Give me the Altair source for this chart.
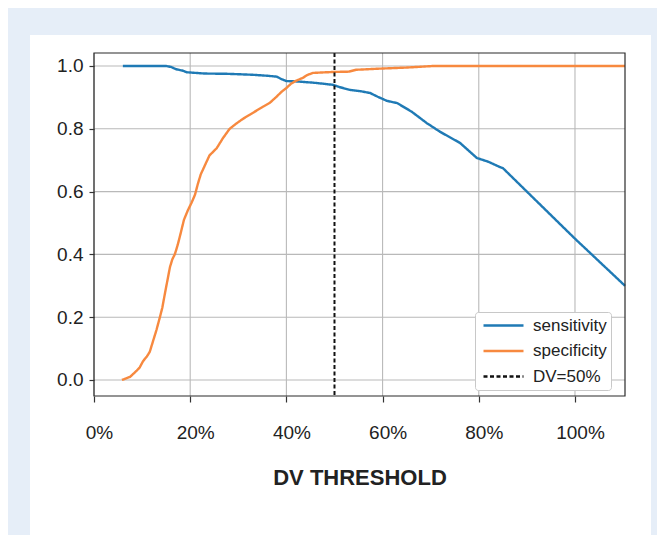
import altair as alt
import pandas as pd

# ---- data ----
spec_thr = [0.058, 0.075, 0.089, 0.095, 0.102, 0.110, 0.116, 0.122, 0.130, 0.137,
            0.142, 0.148, 0.153, 0.158, 0.163, 0.168, 0.174, 0.179, 0.187, 0.195,
            0.203, 0.210, 0.216, 0.222, 0.228, 0.240, 0.255, 0.268, 0.282, 0.297,
            0.310, 0.324, 0.338, 0.351, 0.365, 0.378, 0.390, 0.400, 0.410, 0.420,
            0.434, 0.443, 0.455, 0.497, 0.530, 0.545, 0.600, 0.650, 0.705, 1.104]
spec_val = [0.000, 0.010, 0.030, 0.040, 0.060, 0.075, 0.090, 0.120, 0.160, 0.200,
            0.230, 0.280, 0.320, 0.360, 0.385, 0.400, 0.430, 0.460, 0.510, 0.540,
            0.565, 0.590, 0.625, 0.655, 0.675, 0.715, 0.738, 0.770, 0.800, 0.818,
            0.832, 0.845, 0.858, 0.870, 0.882, 0.900, 0.918, 0.930, 0.944, 0.953,
            0.962, 0.971, 0.978, 0.981, 0.982, 0.988, 0.992, 0.995, 1.000, 1.000]

sens_thr = [0.060, 0.150, 0.160, 0.170, 0.185, 0.193, 0.230, 0.280, 0.330, 0.360,
            0.380, 0.390, 0.400, 0.420, 0.455, 0.480, 0.497, 0.510, 0.532, 0.553,
            0.574, 0.590, 0.609, 0.630, 0.660, 0.692, 0.720, 0.761, 0.796, 0.820,
            0.844, 0.850, 1.000, 1.104]
sens_val = [1.000, 1.000, 0.997, 0.990, 0.985, 0.980, 0.976, 0.975, 0.972, 0.969,
            0.966, 0.958, 0.952, 0.951, 0.947, 0.943, 0.940, 0.933, 0.924, 0.920,
            0.914, 0.902, 0.889, 0.882, 0.855, 0.818, 0.790, 0.755, 0.707, 0.695,
            0.678, 0.675, 0.450, 0.300]

dv_cut = [0.5]
x_ticks = [0.0, 0.2, 0.4, 0.6, 0.8, 1.0]
y_ticks = [0.0, 0.2, 0.4, 0.6, 0.8, 1.0]
series_names = ["sensitivity", "specificity", "DV=50%"]

BLUE = "#1f7ab5"
ORANGE = "#f7893f"
BLACK = "#111111"
FONT = "Liberation Sans"

lines_df = pd.concat([
    pd.DataFrame({"x": sens_thr, "y": sens_val, "series": "sensitivity"}),
    pd.DataFrame({"x": spec_thr, "y": spec_val, "series": "specificity"}),
], ignore_index=True)
vline_df = pd.DataFrame({"x": dv_cut, "series": ["DV=50%"]})

xs = alt.Scale(domain=[0, 1.104], nice=False, zero=False)
ys = alt.Scale(domain=[-0.051, 1.0414], nice=False, zero=False)

x_axis = alt.Axis(values=x_ticks, format=".0%", grid=False, domain=False,
                  tickSize=6, tickColor="#333333", tickWidth=1.2,
                  labelFont=FONT, labelFontSize=19, labelColor="#222222",
                  labelPadding=21, labelFlush=False, labelOffset=5,
                  title="DV THRESHOLD", titleFont=FONT, titleFontSize=22,
                  titleFontWeight="bold", titleColor="#222222",
                  titleBaseline="alphabetic", titleY=88, zindex=1)
y_axis = alt.Axis(values=y_ticks, format=".1f", grid=False, domain=False,
                  tickSize=5, tickColor="#333333", tickWidth=1.2,
                  labelFont=FONT, labelFontSize=19, labelColor="#222222",
                  labelPadding=6, title=None, zindex=1)

legend = alt.Legend(title=None, orient="none", legendX=381, legendY=259,
                    direction="vertical", symbolType="stroke", symbolSize=1600,
                    symbolStrokeWidth=2.5, symbolOffset=3, clipHeight=19,
                    labelFont=FONT, labelFontSize=17, labelColor="#222222",
                    labelOffset=8, labelExpr="datum.label + '     '",
                    strokeColor="#c8c8c8", fillColor="white", padding=4,
                    cornerRadius=3, rowPadding=6.5)

color_scale = alt.Scale(domain=series_names, range=[BLUE, ORANGE, BLACK])
dash_scale = alt.Scale(domain=series_names, range=[[1, 0], [1, 0], [4, 2.5]])

panel = alt.Chart(pd.DataFrame({"k": [0]})).mark_rect(color="white").encode(
    x=alt.value(-64), x2=alt.value(557), y=alt.value(-18), y2=alt.value(482))

xgrid = alt.Chart(pd.DataFrame({"t": x_ticks})).mark_rule(
    color="#b9b9b9", strokeWidth=1.1).encode(
    x=alt.X("t:Q", scale=xs, axis=x_axis))
ygrid = alt.Chart(pd.DataFrame({"t": y_ticks})).mark_rule(
    color="#b9b9b9", strokeWidth=1.1).encode(
    y=alt.Y("t:Q", scale=ys, axis=y_axis))

lines = alt.Chart(lines_df).mark_line(strokeWidth=2.4).encode(
    x=alt.X("x:Q", scale=xs, axis=x_axis),
    y=alt.Y("y:Q", scale=ys, axis=y_axis),
    color=alt.Color("series:N", scale=color_scale, legend=legend),
    strokeDash=alt.StrokeDash("series:N", scale=dash_scale, legend=legend),
)

vline = alt.Chart(vline_df).mark_rule(strokeWidth=2).encode(
    x=alt.X("x:Q", scale=xs, axis=x_axis),
    color=alt.Color("series:N", scale=color_scale, legend=legend),
    strokeDash=alt.StrokeDash("series:N", scale=dash_scale, legend=legend),
)

frame = alt.Chart(pd.DataFrame({"k": [0]})).mark_rect(
    fillOpacity=0, stroke="#2b2b2b", strokeWidth=1.2).encode(
    x=alt.value(0), x2=alt.value("width"), y=alt.value(0), y2=alt.value("height"))

chart = alt.layer(panel, xgrid, ygrid, lines, vline, frame).properties(
    width=531, height=343,
    autosize=alt.AutoSizeParams(type="none"),
    padding={"left": 86, "top": 45, "right": 32, "bottom": 139},
    background="#e6eef8",
).configure_view(strokeWidth=0)

chart.save("out.html", embed_options={"renderer": "svg", "actions": False})
